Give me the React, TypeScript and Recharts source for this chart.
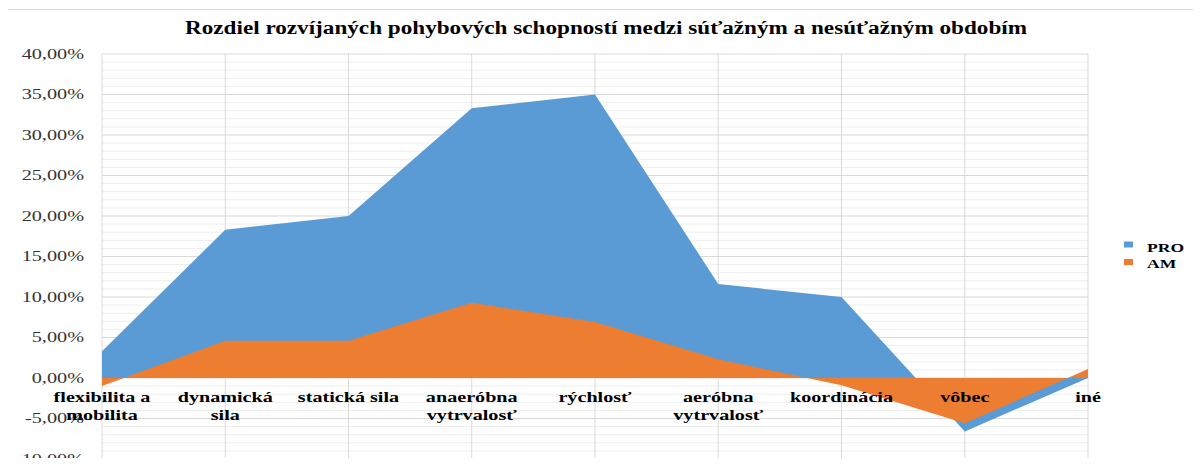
import React from 'react';
import { AreaChart, Area, XAxis, YAxis, CartesianGrid, Legend } from 'recharts';

const TITLE = 'Rozdiel rozvíjaných pohybových schopností medzi súťažným a nesúťažným obdobím';
const categories = [
  'flexibilita a\nmobilita',
  'dynamická\nsila',
  'statická sila',
  'anaeróbna\nvytrvalosť',
  'rýchlosť',
  'aeróbna\nvytrvalosť',
  'koordinácia',
  'vôbec',
  'iné',
];
const proValues = [3.3, 18.3, 20.0, 33.3, 35.0, 11.6, 10.0, -6.6, 0.0];
const amValues = [-1.0, 4.6, 4.6, 9.3, 6.9, 2.3, -0.9, -5.6, 1.1];
const seriesNames = ['PRO', 'AM'];
const yTicks = [-10, -5, 0, 5, 10, 15, 20, 25, 30, 35, 40];
const minorGrid = [
  -9, -8, -7, -6, -4, -3, -2, -1, 1, 2, 3, 4, 6, 7, 8, 9, 11, 12, 13, 14, 16, 17, 18, 19,
  21, 22, 23, 24, 26, 27, 28, 29, 31, 32, 33, 34, 36, 37, 38, 39,
];
const Y_DOMAIN: [number, number] = [-10, 40];

const COLORS = { PRO: '#5B9BD5', AM: '#ED7D31' };
const SERIF = '"Liberation Serif", "Times New Roman", serif';

const W = 1201;
const H = 466;
const X_AXIS_H = 7;
const MARGIN = { top: 54, right: 113, bottom: 0, left: 0 };
const PLOT_TOP = MARGIN.top;
const PLOT_BOTTOM = H - MARGIN.bottom - X_AXIS_H;
const ZERO_Y = PLOT_TOP + ((Y_DOMAIN[1] - 0) / (Y_DOMAIN[1] - Y_DOMAIN[0])) * (PLOT_BOTTOM - PLOT_TOP);

const data = categories.map((c, i) => ({ cat: c, PRO: proValues[i], AM: amValues[i] }));

const fmt = (v: number) => `${v.toFixed(2).replace('.', ',')}%`;

const YTick = (props: any) => {
  const { x, y, payload } = props;
  return (
    <text
      transform={`translate(${x},${y}) scale(1.35,1)`}
      textAnchor="end"
      dy="0.3em"
      fontFamily={SERIF}
      fontSize={15}
      fill="#333"
    >
      {fmt(payload.value)}
    </text>
  );
};

const XTick = (props: any) => {
  const { x, payload } = props;
  const lines = String(payload.value).split('\n');
  return (
    <g>
      {lines.map((l, i) => (
        <text
          key={i}
          transform={`translate(${x},${ZERO_Y + 24 + i * 18}) scale(1.3,1)`}
          textAnchor="middle"
          fontFamily={SERIF}
          fontSize={15.5}
          fontWeight="bold"
          fill="#000"
        >
          {l}
        </text>
      ))}
    </g>
  );
};

const LegendContent = () => (
  <svg width={80} height={45} style={{ overflow: 'visible' }}>
    {seriesNames.map((n, i) => (
      <g key={n}>
        <rect x={9} y={9.5 + i * 17.5} width={9} height={6} fill={(COLORS as any)[n]} />
        <text
          transform={`translate(32,${19.7 + i * 16.3}) scale(1.35,1)`}
          fontFamily={SERIF}
          fontSize={13}
          fontWeight="bold"
          fill="#000"
        >
          {n}
        </text>
      </g>
    ))}
  </svg>
);

export default function App() {
  return (
    <div style={{ position: 'relative', width: W, height: H, margin: -8, background: '#fff' }}>
      <svg
        width={W}
        height={H}
        style={{ position: 'absolute', left: 0, top: 0, pointerEvents: 'none' }}
      >
        <line x1={5} y1={9.5} x2={W} y2={9.5} stroke="#d9d9d9" />
        <line x1={5.5} y1={9} x2={5.5} y2={H} stroke="#d9d9d9" />
        <text
          x={185}
          y={34}
          textLength={842}
          lengthAdjust="spacingAndGlyphs"
          fontFamily={SERIF}
          fontSize={18}
          fontWeight="bold"
          fill="#000"
        >
          {TITLE}
        </text>
      </svg>
      <div style={{ position: 'absolute', left: 0, top: 0 }}>
        <AreaChart width={W} height={H} data={data} margin={MARGIN}>
          <CartesianGrid
            horizontalValues={minorGrid}
            vertical={false}
            stroke="#eeeeee"
          />
          <CartesianGrid stroke="#d9d9d9" />
          <YAxis
            domain={Y_DOMAIN}
            ticks={yTicks}
            width={102}
            axisLine={false}
            tickLine={false}
            tickSize={0}
            tickMargin={18}
            tick={<YTick />}
            interval={0}
          />
          <Area
            type="linear"
            dataKey="PRO"
            name="PRO"
            fill={COLORS.PRO}
            fillOpacity={1}
            stroke="none"
            isAnimationActive={false}
          />
          <Area
            type="linear"
            dataKey="AM"
            name="AM"
            fill={COLORS.AM}
            fillOpacity={1}
            stroke="none"
            isAnimationActive={false}
          />
          <XAxis
            dataKey="cat"
            height={X_AXIS_H}
            axisLine={false}
            tickLine={false}
            tick={<XTick />}
            interval={0}
          />
          <Legend
            layout="vertical"
            align="center"
            verticalAlign="middle"
            content={<LegendContent />}
            wrapperStyle={{ left: 1115, top: 232, width: 80, height: 45 }}
          />
        </AreaChart>
      </div>
    </div>
  );
}
